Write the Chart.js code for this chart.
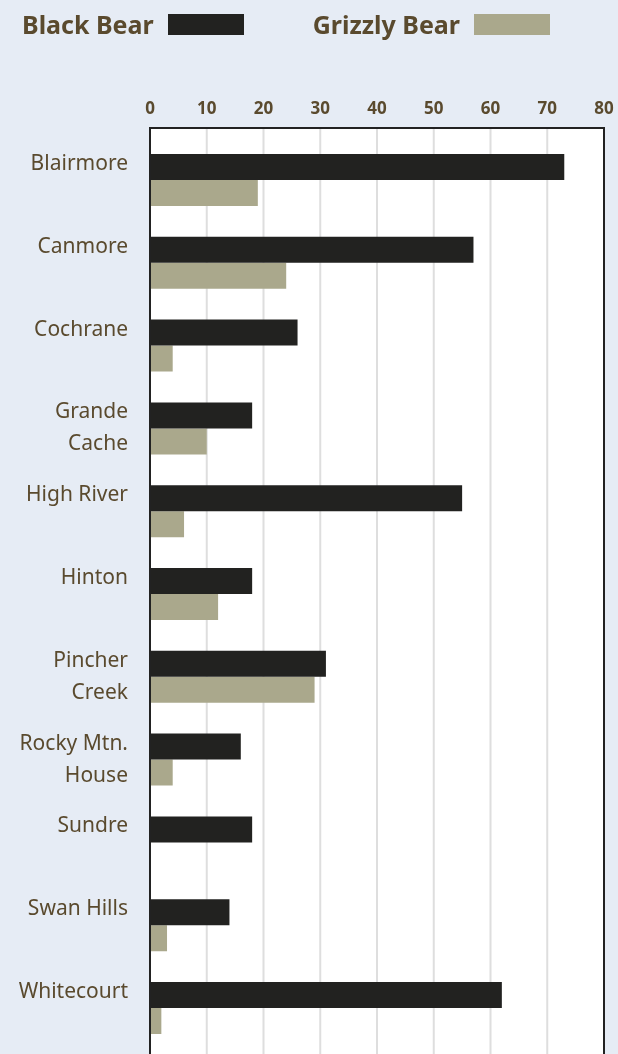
<!DOCTYPE html>
<html>
<head>
<meta charset="utf-8">
<script src="https://cdn.jsdelivr.net/npm/chart.js@4"></script>
<style>
  html, body { margin: 0; padding: 0; background: #e6ecf5; overflow: hidden; }
  #wrap { position: relative; width: 618px; height: 1070px; }
  #legend { position: absolute; left: 22px; top: 7px; width: 600px; font-family: "Noto Sans", sans-serif;
            font-weight: bold; font-size: 25px; color: #5a4a2e; display: flex; white-space: nowrap; }
  .item { display: flex; align-items: center; margin-right: 69px; flex-shrink: 0; }
  .box { width: 76px; height: 21px; margin-left: 14px; flex-shrink: 0; }
</style>
</head>
<body>
<div id="wrap">
  <canvas id="chart" width="618" height="1070"></canvas>
  <div id="legend"></div>
</div>
<script>
const towns = ["Blairmore", "Canmore", "Cochrane", ["Grande", "Cache"], "High River", "Hinton",
    ["Pincher", "Creek"], ["Rocky Mtn.", "House"], "Sundre", "Swan Hills", "Whitecourt"];
const blackBear = [73, 57, 26, 18, 55, 18, 31, 16, 18, 14, 62];
const grizzlyBear = [19, 24, 4, 10, 6, 12, 29, 4, 0, 3, 2];
const xTicks = [0, 10, 20, 30, 40, 50, 60, 70, 80];

const textColor = "#5a4a2e";

// white plot box, grid and frame; box starts a bit above the first band
const plotFrame = {
    id: "plotFrame",
    beforeDatasetsDraw(chart) {
        let ctx = chart.ctx, x = chart.scales.x, a = chart.chartArea;
        let top = 128, bottom = chart.height;
        ctx.save();
        ctx.fillStyle = "#fff";
        ctx.fillRect(a.left, top, a.right - a.left, bottom - top);
        ctx.strokeStyle = "#dedede";
        ctx.lineWidth = 2;
        xTicks.forEach(v => {
            let px = x.getPixelForValue(v);
            ctx.beginPath();
            ctx.moveTo(px, top);
            ctx.lineTo(px, bottom);
            ctx.stroke();
        });
        ctx.restore();
    },
    afterDatasetsDraw(chart) {
        let ctx = chart.ctx, a = chart.chartArea;
        ctx.save();
        ctx.strokeStyle = "#222";
        ctx.lineWidth = 2;
        ctx.beginPath();
        ctx.moveTo(a.left, chart.height);
        ctx.lineTo(a.left, 128);
        ctx.lineTo(a.right, 128);
        ctx.lineTo(a.right, chart.height);
        ctx.stroke();
        ctx.restore();
    }
};

const chart = new Chart(document.getElementById("chart"), {
    type: "bar",
    data: {
        labels: towns,
        datasets: [{
            label: "Black Bear",
            data: blackBear,
            backgroundColor: "#222220"
        }, {
            label: "Grizzly Bear",
            data: grizzlyBear,
            backgroundColor: "#aaa88c"
        }]
    },
    options: {
        indexAxis: "y",
        responsive: false,
        animation: false,
        layout: { padding: { left: 0, right: 14, top: 0, bottom: 20.6 } },
        datasets: { bar: { barPercentage: 1, categoryPercentage: 0.628 } },
        plugins: { legend: { display: false }, tooltip: { enabled: false } },
        scales: {
            x: {
                position: "top",
                min: 0,
                max: 80,
                afterFit: s => {
                    s.height = 138.6;
                    s.paddingLeft = 0;
                    s.paddingRight = 0;
                },
                afterBuildTicks: s => { s.ticks = xTicks.map(v => ({ value: v })); },
                grid: { display: false, drawTicks: false },
                border: { display: false },
                ticks: {
                    color: textColor,
                    padding: 19,
                    font: { family: "Noto Sans", weight: "bold", size: 17 }
                }
            },
            y: {
                afterFit: s => {
                    s.width = 150;
                    s.paddingTop = 0;
                    s.paddingBottom = 0;
                },
                grid: { display: false, drawTicks: false },
                border: { display: false },
                ticks: {
                    color: textColor,
                    padding: 22,
                    font: { family: "Noto Sans", size: 21, lineHeight: 1.52 },
                    // one-line names sit on the upper line of the band
                    callback: function (value) {
                        let l = this.getLabelForValue(value);
                        return Array.isArray(l) ? l : [l, ""];
                    }
                }
            }
        }
    },
    plugins: [plotFrame]
});

// legend: name first, then the swatch
let legend = document.getElementById("legend");
chart.data.datasets.forEach(ds => {
    let item = document.createElement("div");
    item.className = "item";
    let name = document.createElement("span");
    name.textContent = ds.label;
    let box = document.createElement("span");
    box.className = "box";
    box.style.background = ds.backgroundColor;
    item.appendChild(name);
    item.appendChild(box);
    legend.appendChild(item);
});
</script>
</body>
</html>
